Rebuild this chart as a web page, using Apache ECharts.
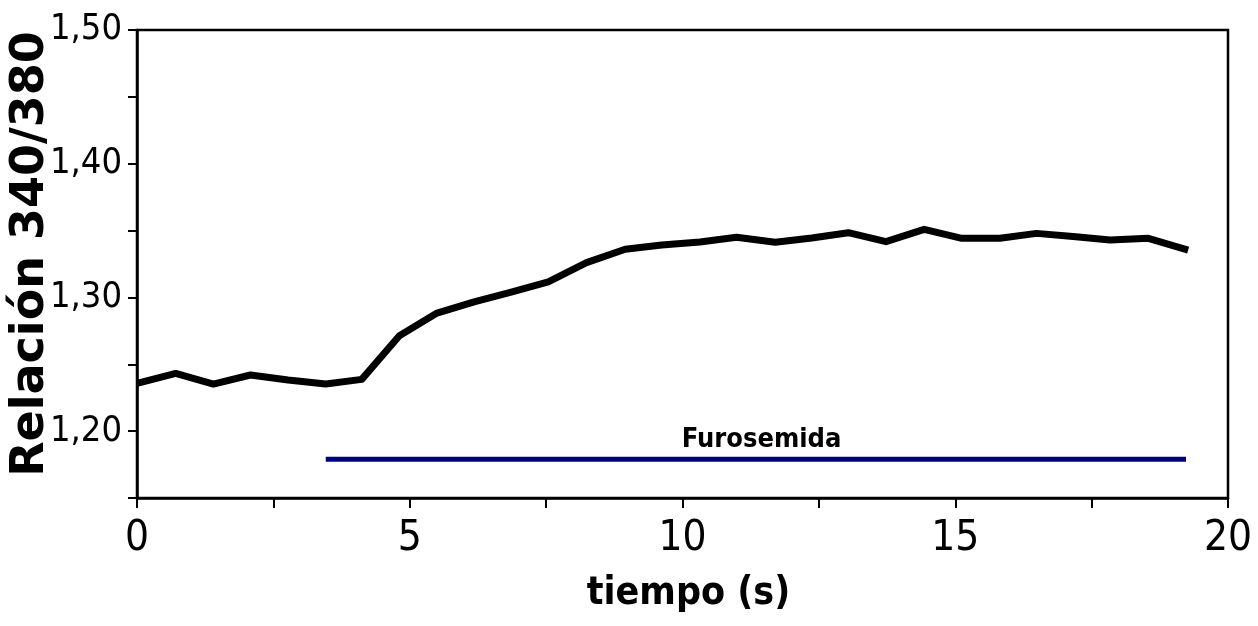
<!DOCTYPE html>
<html>
<head>
<meta charset="utf-8">
<script src="https://cdn.jsdelivr.net/npm/echarts@6/dist/echarts.min.js"></script>
<style>
html,body{margin:0;padding:0;background:#fff;}
#chart{width:1258px;height:626px;}
</style>
</head>
<body>
<div id="chart"></div>
<script>
// time (s)
const tiempo = [0, 0.71, 1.40, 2.08, 2.77, 3.46, 4.12, 4.81, 5.50, 6.18, 6.86, 7.54, 8.24, 8.95, 9.62, 10.32, 10.99, 11.70, 12.37, 13.04, 13.73, 14.43, 15.12, 15.82, 16.49, 17.16, 17.84, 18.54, 19.27];
// ratio 340/380
const relacion = [1.2357, 1.2432, 1.2352, 1.2420, 1.2382, 1.2352, 1.2387, 1.2714, 1.2883, 1.2966, 1.3040, 1.3117, 1.3260, 1.3360, 1.3392, 1.3414, 1.3450, 1.3412, 1.3444, 1.3484, 1.3417, 1.3509, 1.3442, 1.3442, 1.3479, 1.3455, 1.3429, 1.3442, 1.3354];
// furosemide application bar
const furoX = [3.46, 19.23];
const furoY = [1.179, 1.179];
const furoLabel = 'Furosemida';
const xTickLabels = ['0', '5', '10', '15', '20'];
const yTickLabels = ['1,20', '1,30', '1,40', '1,50'];

const mainData = tiempo.map((t, i) => [t, relacion[i]]);
const furoData = furoX.map((t, i) => [t, furoY[i]]);

const condensed = "'DejaVu Sans Condensed', 'Liberation Sans', sans-serif";

const chart = echarts.init(document.getElementById('chart'));
chart.setOption({
  animation: false,
  backgroundColor: '#fff',
  grid: {
    left: 137, right: 30, top: 30, bottom: 128,
    containLabel: false, outerBoundsMode: 'none',
    show: true, borderColor: '#000', borderWidth: 2.5, backgroundColor: 'transparent'
  },
  xAxis: {
    type: 'value', min: 0, max: 20, interval: 2.5,
    name: 'tiempo (s)', nameLocation: 'middle', nameGap: 76, nameMoveOverlap: false,
    nameTextStyle: { fontFamily: condensed, fontWeight: 'bold', fontSize: 39, color: '#000', padding: [0, 0, 0, 12] },
    axisLine: { show: true, lineStyle: { color: '#000', width: 2.5 } },
    axisTick: { show: true, inside: false, length: 10, lineStyle: { color: '#000', width: 2 } },
    splitLine: { show: false },
    axisLabel: {
      margin: 20, fontFamily: condensed, fontSize: 42, color: '#000',
      formatter: v => {
        const s = String(Math.round(v));
        return (Math.abs(v / 5 - Math.round(v / 5)) < 1e-6 && xTickLabels.includes(s)) ? s : '';
      }
    }
  },
  yAxis: {
    type: 'value', min: 1.15, max: 1.50, interval: 0.05,
    name: 'Relación 340/380', nameLocation: 'middle', nameGap: 83, nameRotate: 90, nameMoveOverlap: false,
    nameTextStyle: { fontFamily: "'DejaVu Sans', sans-serif", fontWeight: 'bold', fontSize: 46, color: '#000', padding: [0, 0, 0, 20] },
    axisLine: { show: true, lineStyle: { color: '#000', width: 2.5 } },
    axisTick: { show: true, inside: false, length: 9, lineStyle: { color: '#000', width: 2 } },
    splitLine: { show: false },
    axisLabel: {
      margin: 15, fontFamily: condensed, fontSize: 36, color: '#000',
      formatter: v => {
        if (Math.abs(v * 10 - Math.round(v * 10)) > 1e-6) return '';
        const s = v.toFixed(2).replace('.', ',');
        return yTickLabels.includes(s) ? s : '';
      }
    }
  },
  series: [
    {
      type: 'line', data: mainData, symbol: 'none', smooth: false,
      lineStyle: { color: '#000', width: 7, join: 'round' }, z: 3
    },
    {
      type: 'line', data: furoData, symbol: 'none',
      lineStyle: { color: '#000080', width: 5 },
      markPoint: {
        symbol: 'circle', symbolSize: 0,
        data: [{ coord: [11.45, furoY[0]] }],
        label: {
          show: true, position: 'top', distance: 6, formatter: furoLabel,
          fontFamily: condensed, fontWeight: 'bold', fontSize: 27, color: '#000'
        }
      }
    }
  ]
});
</script>
</body>
</html>
